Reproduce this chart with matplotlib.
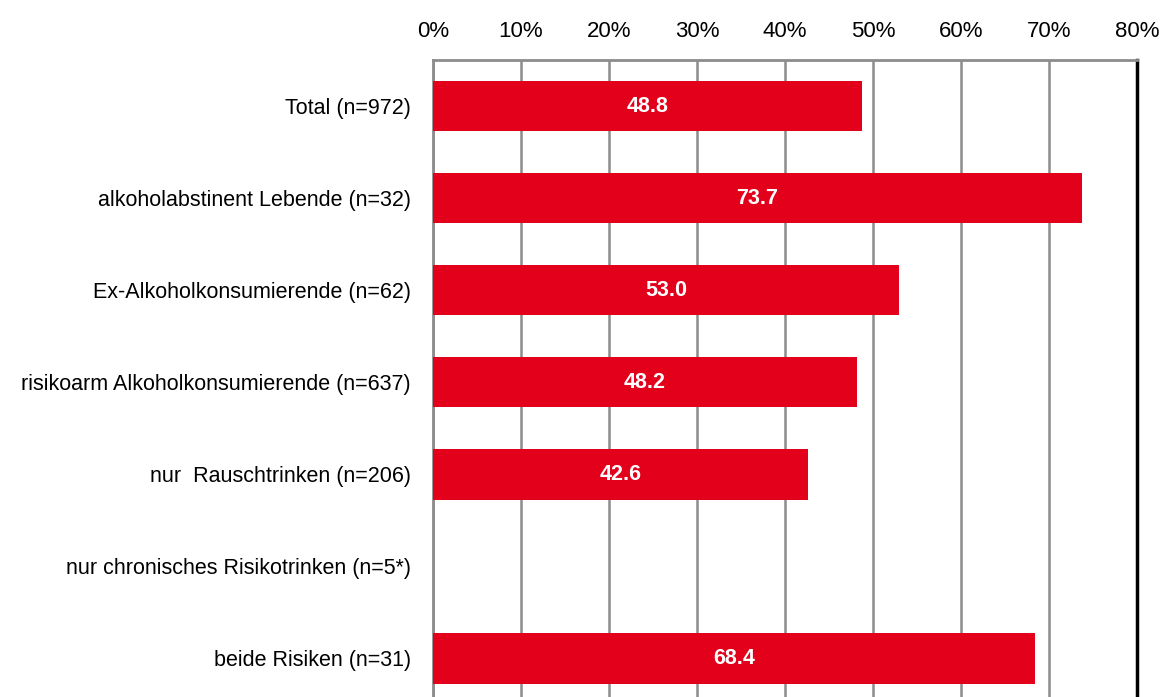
import matplotlib
matplotlib.use("Agg")
import matplotlib.pyplot as plt

plt.rcParams["font.family"] = ["Liberation Sans", "DejaVu Sans"]

categories = [
    "Total (n=972)",
    "alkoholabstinent Lebende (n=32)",
    "Ex-Alkoholkonsumierende (n=62)",
    "risikoarm Alkoholkonsumierende (n=637)",
    "nur  Rauschtrinken (n=206)",
    "nur chronisches Risikotrinken (n=5*)",
    "beide Risiken (n=31)",
]
values = [48.8, 73.7, 53.0, 48.2, 42.6, None, 68.4]
ticks = [0, 10, 20, 30, 40, 50, 60, 70, 80]
tick_labels = [f"{t}%" for t in ticks]

RED = "#E2001A"
GRID = "#8c8c8c"

fig = plt.figure(figsize=(11.6, 6.97), dpi=100)
ax = fig.add_axes([433 / 1160, 0.0, (1137 - 433) / 1160, 1 - 60 / 697])

ypos = list(range(len(categories)))
for y, v in zip(ypos, values):
    if v is None:
        continue
    ax.barh(y, v, height=0.55, color=RED, zorder=3)
    ax.text(v / 2, y, f"{v:.1f}", color="white", fontsize=15.5, fontweight="bold",
            ha="center", va="center", zorder=4)

ax.set_xlim(0, 80)
ax.set_ylim(6.42, -0.5)
ax.set_xticks(ticks)
ax.set_xticklabels(tick_labels, fontsize=16)
ax.xaxis.tick_top()
ax.tick_params(axis="x", length=0, pad=13)
ax.set_yticks(ypos)
ax.set_yticklabels(categories, fontsize=15.5)
ax.tick_params(axis="y", length=0, pad=16)

ax.grid(axis="x", color=GRID, linewidth=1.8, zorder=0)
for side in ["left", "top"]:
    ax.spines[side].set_color(GRID)
    ax.spines[side].set_linewidth(2)
ax.spines["right"].set_color("black")
ax.spines["right"].set_linewidth(2.5)
ax.spines["bottom"].set_visible(False)

fig.savefig("out.png", dpi=100)
